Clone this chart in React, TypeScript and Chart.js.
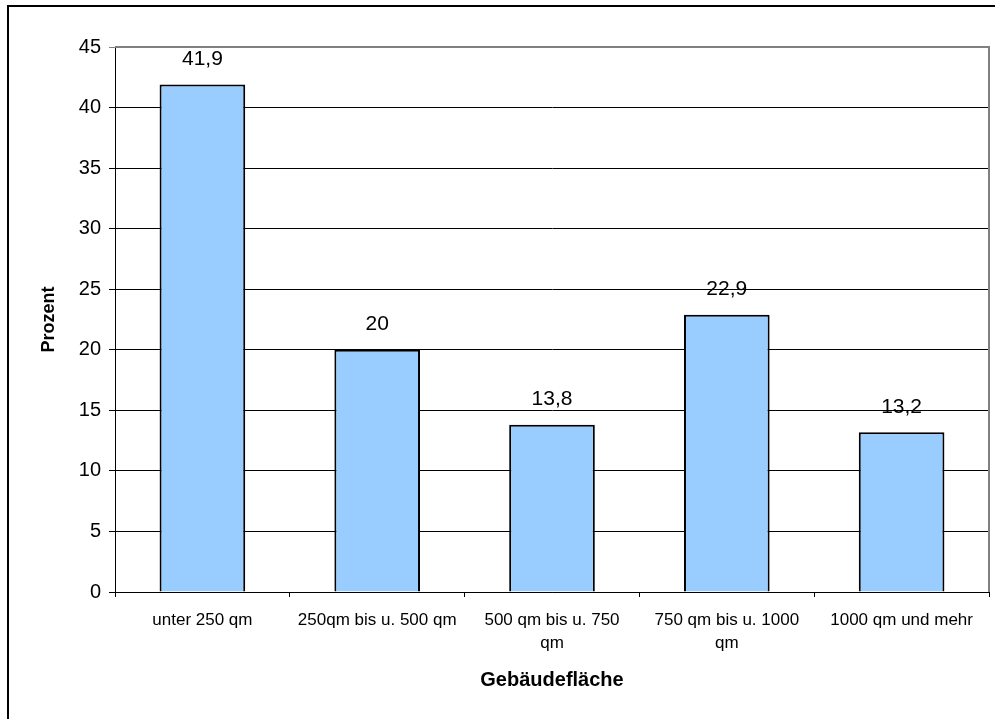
import React, { useEffect, useRef } from "react";
import { Chart, registerables } from "chart.js";

Chart.register(...registerables);

const categories: (string | string[])[] = [
  "unter 250 qm",
  "250qm bis u. 500 qm",
  ["500 qm bis u. 750", "qm"],
  ["750 qm bis u. 1000", "qm"],
  "1000 qm und mehr",
];
const values: number[] = [41.9, 20, 13.8, 22.9, 13.2];
const yTicks = { min: 0, max: 45, step: 5 };
const yTitle = "Prozent";
const xTitle = "Gebäudefläche";

const FONT = "'Liberation Sans', Arial, sans-serif";

const valueLabels = {
  id: "valueLabels",
  afterDatasetsDraw(chart: any) {
    const ctx = chart.ctx;
    const meta = chart.getDatasetMeta(0);
    ctx.save();
    ctx.font = `21px ${FONT}`;
    ctx.fillStyle = "#000";
    ctx.textAlign = "center";
    ctx.textBaseline = "alphabetic";
    meta.data.forEach((bar: any, i: number) => {
      const v = chart.data.datasets[0].data[i];
      ctx.fillText(String(v).replace(".", ","), bar.x, bar.y - 19.5);
    });
    ctx.restore();
  },
};

const frame = {
  id: "frame",
  beforeDatasetsDraw(chart: any) {
    const { ctx, chartArea } = chart;
    ctx.save();
    ctx.strokeStyle = "#808080";
    ctx.lineWidth = 2;
    ctx.beginPath();
    ctx.moveTo(chartArea.left, chartArea.top);
    ctx.lineTo(chartArea.right, chartArea.top);
    ctx.lineTo(chartArea.right, chartArea.bottom);
    ctx.stroke();
    ctx.restore();
  },
  afterDraw(chart: any) {
    const ctx = chart.ctx;
    ctx.save();
    ctx.strokeStyle = "#000";
    ctx.lineWidth = 2;
    ctx.beginPath();
    ctx.moveTo(8, 719);
    ctx.lineTo(8, 6);
    ctx.lineTo(995, 6);
    ctx.stroke();
    ctx.restore();
  },
};

export default function App() {
  const ref = useRef<HTMLCanvasElement | null>(null);
  useEffect(() => {
    if (!ref.current) return;
    const chart = new Chart(ref.current, {
      type: "bar",
      data: {
        labels: categories,
        datasets: [
          {
            data: values,
            backgroundColor: "#99CCFF",
            borderColor: "#000000",
            borderWidth: 2,
            barPercentage: 0.49,
            categoryPercentage: 1,
          },
        ],
      },
      options: {
        animation: false,
        responsive: false,
        devicePixelRatio: 1,
        layout: { padding: { left: 0, top: 47, right: 6, bottom: 0 } },
        plugins: {
          legend: { display: false },
          tooltip: { enabled: false },
        },
        font: { family: FONT },
        scales: {
          x: {
            offset: true,
            grid: {
              offset: true,
              drawOnChartArea: false,
              drawTicks: true,
              tickLength: 5,
              color: "#000",
            },
            border: { color: "#000", width: 1 },
            ticks: {
              color: "#000",
              font: { family: FONT, size: 17, lineHeight: 1.35 },
              padding: 12,
              maxRotation: 0,
              autoSkip: false,
            },
            title: {
              display: true,
              text: xTitle,
              color: "#000",
              font: { family: FONT, size: 20, weight: "bold" },
              padding: { top: 0, bottom: 27 },
            },
            afterFit: (scale: any) => {
              scale.height = 127;
            },
          } as any,
          y: {
            min: yTicks.min,
            max: yTicks.max,
            grid: {
              color: (c: any) => (c.tick && c.tick.value === yTicks.max ? "#808080" : "#000"),
              lineWidth: 1,
              tickLength: 6,
            },
            border: { color: "#000", width: 1 },
            ticks: {
              stepSize: yTicks.step,
              color: "#000",
              font: { family: FONT, size: 20 },
              padding: 8,
            },
            title: {
              display: true,
              text: yTitle,
              color: "#000",
              font: { family: FONT, size: 18, weight: "bold" },
              padding: { top: 38, bottom: 0 },
            },
            afterFit: (scale: any) => {
              scale.width = 115;
            },
          } as any,
        },
      },
      plugins: [valueLabels, frame],
    });
    return () => chart.destroy();
  }, []);
  return (
    <canvas
      ref={ref}
      width={995}
      height={719}
      style={{ position: "absolute", left: 0, top: 0, display: "block", background: "#fff" }}
    />
  );
}
